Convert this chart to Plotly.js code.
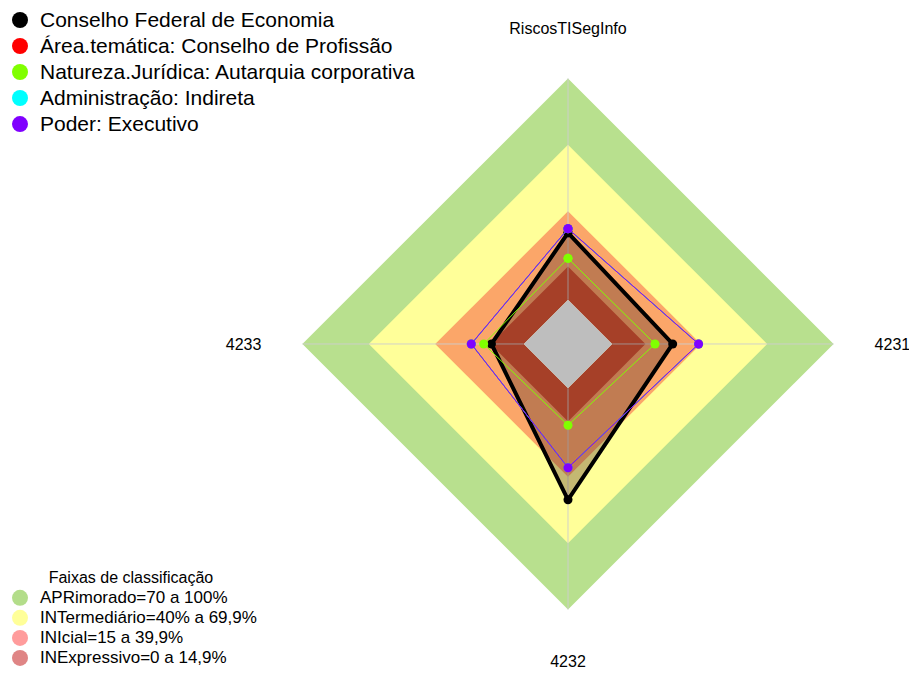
<!DOCTYPE html>
<html>
<head>
<meta charset="utf-8">
<script src="https://cdn.plot.ly/plotly-3.0.1.min.js"></script>
<style>html,body{margin:0;padding:0;background:#fff;}#chart{width:909px;height:673px;}</style>
</head>
<body>
<div id="chart"></div>
<script>
// ---- data ----
const categories = ['RiscosTISegInfo', '4231', '4232', '4233'];
const seriesNames = [
  'Conselho Federal de Economia',
  'Área.temática: Conselho de Profissão',
  'Natureza.Jurídica: Autarquia corporativa',
  'Administração: Indireta',
  'Poder: Executivo'
];
const valuesEconomia   = [30.2, 27.3, 50.4, 14.6];
const valuesArea       = [32.1, 39.0, 35.9, 23.7];
const valuesNatureza   = [18.7, 19.3, 16.7, 18.1];
const valuesAdmin      = [32.1, 39.0, 35.9, 23.7];
const valuesPoder      = [32.1, 39.0, 35.9, 23.7];
const seriesColors = ['#000000', '#ff0000', '#80ff00', '#00ffff', '#8000ff'];

const bandNames = ['APRimorado=70 a 100%', 'INTermediário=40% a 69,9%', 'INIcial=15 a 39,9%', 'INExpressivo=0 a 14,9%'];
const bandLevels = [100, 70, 40, 15];
const bandFillColors = ['#b8e08e', '#ffff99', '#fba669', '#d24c2b'];
const bandLegendColors = ['#b3dd8a', '#ffff99', '#ff9c9c', '#df8585'];
const centerLevel = 0;
const centerOffset = 20;
const radialMax = 118.3;

// ---- helpers ----
function closeArr(a) { return a.concat([a[0]]); }
function constArr(v) { return categories.map(() => v); }

const traces = [];
// grey centre, on a hole-less polar underneath
traces.push({
  type: 'scatterpolar', subplot: 'polar2', mode: 'lines', r: closeArr(constArr(centerLevel)), theta: closeArr(categories),
  fill: 'toself', fillcolor: '#bebebe', line: {width: 0, color: '#bebebe'}, showlegend: false, hoverinfo: 'skip'
});
// bands
bandLevels.forEach((lv, i) => {
  traces.push({
    type: 'scatterpolar', mode: 'lines', r: closeArr(constArr(lv)), theta: closeArr(categories),
    fill: 'toself', fillcolor: bandFillColors[i], line: {width: 0, color: bandFillColors[i]},
    showlegend: false, hoverinfo: 'skip'
  });
});
// spokes
categories.forEach(c => {
  traces.push({
    type: 'scatterpolar', mode: 'lines', r: [centerLevel, bandLevels[0]], theta: [c, c],
    line: {width: 1, color: 'rgba(205,205,205,0.9)'}, showlegend: false, hoverinfo: 'skip'
  });
});
// series
const seriesValues = [valuesEconomia, valuesArea, valuesNatureza, valuesAdmin, valuesPoder];
seriesValues.forEach((vals, i) => {
  const t = {
    type: 'scatterpolar', mode: 'lines+markers', r: closeArr(vals), theta: closeArr(categories),
    name: seriesNames[i], showlegend: false,
    line: {color: seriesColors[i], width: i === 0 ? 4 : 1},
    marker: {color: seriesColors[i], size: 9}
  };
  if (i === 0) { t.fill = 'toself'; t.fillcolor = 'rgba(76,39,35,0.33)'; }
  traces.push(t);
});
// legend 1 entries
seriesNames.forEach((n, i) => {
  traces.push({
    type: 'scatterpolar', mode: 'markers', r: [null], theta: [categories[0]],
    name: '<span style="font-size:21px">' + n + '</span>',
    marker: {color: seriesColors[i], size: 16}, legend: 'legend', showlegend: true
  });
});
// legend 2 entries
bandNames.forEach((n, i) => {
  traces.push({
    type: 'scatterpolar', mode: 'markers', r: [null], theta: [categories[0]],
    name: '<span style="font-size:17px">' + n + '</span>',
    marker: {color: bandLegendColors[i], size: 16}, legend: 'legend2', showlegend: true
  });
});

const R = 307;
const dom = {x: [(568 - R) / 909, (568 + R) / 909], y: [1 - (345 + R) / 673, 1 - (345 - R) / 673]};
const angular = {
  type: 'category', categoryarray: categories,
  direction: 'clockwise', rotation: 90, showgrid: false, showline: false, ticks: '',
  tickfont: {size: 16, color: '#000'}
};
const layout = {
  width: 909, height: 673,
  margin: {l: 0, r: 0, t: 0, b: 0},
  paper_bgcolor: '#ffffff',
  font: {family: 'Liberation Sans, Arial, sans-serif', color: '#000'},
  polar2: {
    domain: dom, bgcolor: 'rgba(0,0,0,0)', gridshape: 'linear',
    radialaxis: {visible: false, range: [centerLevel - centerOffset, radialMax]},
    angularaxis: Object.assign({}, angular, {showticklabels: false})
  },
  polar: {
    domain: dom, bgcolor: 'rgba(0,0,0,0)', gridshape: 'linear',
    hole: centerOffset / (radialMax + centerOffset),
    radialaxis: {visible: false, range: [centerLevel, radialMax]},
    angularaxis: angular
  },
  legend: {
    x: 0, y: 1 - 2 / 673, xanchor: 'left', yanchor: 'top', bgcolor: 'rgba(0,0,0,0)',
    font: {size: 17.7, color: '#000'}, itemwidth: 30, tracegroupgap: 0
  },
  legend2: {
    x: 0, y: 1 - 564 / 673, xanchor: 'left', yanchor: 'top', bgcolor: 'rgba(0,0,0,0)',
    font: {size: 13.1, color: '#000'}, itemwidth: 30,
    title: {text: 'Faixas de classificação', side: 'top center', font: {size: 16, color: '#000'}}
  },
  showlegend: true
};

Plotly.newPlot('chart', traces, layout, {displayModeBar: false, staticPlot: true});
</script>
</body>
</html>
